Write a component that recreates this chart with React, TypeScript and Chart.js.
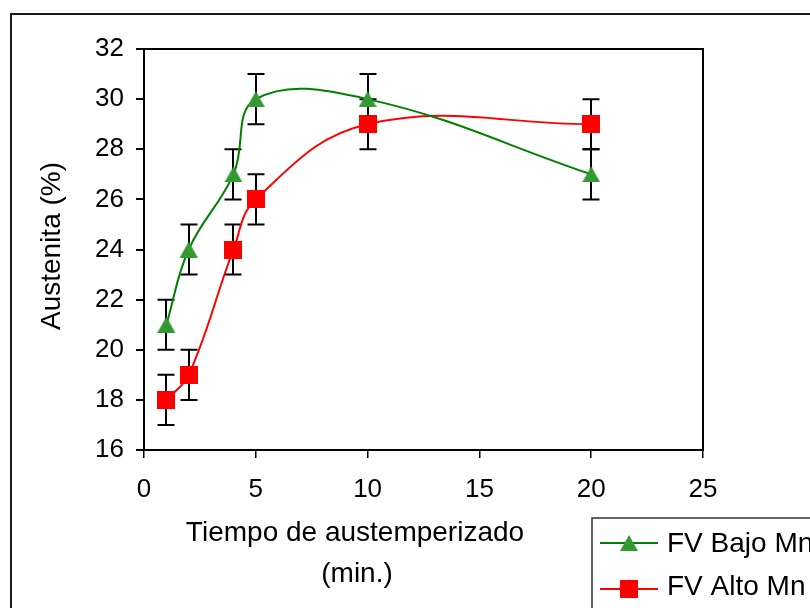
import { useEffect, useRef } from 'react';
import { Chart, registerables } from 'chart.js';

Chart.register(...registerables);

// ---- data ----
const tiempo = [1, 2, 4, 5, 10, 20];
const bajoMn = [21, 24, 27, 30, 30, 27];
const altoMn = [18, 19, 24, 26, 29, 29];
const errBajo = [1, 1, 1, 1, 1, 1];
const errAlto = [1, 1, 1, 1, 1, 1];
const seriesNames = ['FV Bajo Mn', 'FV Alto Mn'];
const xTitleLines = ['Tiempo de austemperizado', '(min.)'];
const yTitle = 'Austenita (%)';
const X_MIN = 0;
const X_MAX = 25;
const X_STEP = 5;
const Y_MIN = 16;
const Y_MAX = 32;
const Y_STEP = 2;

// ---- style ----
const FONT = 'Liberation Sans';
const GREEN_LINE = '#008000';
const GREEN_MARK = '#339933';
const RED = '#ff0000';

function makeTriangle(w: number, h: number, color: string) {
  const c = document.createElement('canvas');
  c.width = w;
  c.height = h;
  const g = c.getContext('2d')!;
  g.fillStyle = color;
  g.beginPath();
  g.moveTo(w / 2, 0);
  g.lineTo(w, h);
  g.lineTo(0, h);
  g.closePath();
  g.fill();
  return c;
}

function makeSquare(s: number, color: string) {
  const c = document.createElement('canvas');
  c.width = s;
  c.height = s;
  const g = c.getContext('2d')!;
  g.fillStyle = color;
  g.fillRect(0, 0, s, s);
  return c;
}

export default function App() {
  const ref = useRef<HTMLCanvasElement>(null);

  useEffect(() => {
    const tri = makeTriangle(18, 16, GREEN_MARK);
    const sq = makeSquare(18, RED);
    const errs = [errBajo, errAlto];
    const ys = [bajoMn, altoMn];

    const decor = {
      id: 'decor',
      beforeDraw(chart: any) {
        const ctx = chart.ctx;
        ctx.save();
        ctx.fillStyle = '#fff';
        ctx.fillRect(0, 0, chart.width, chart.height);
        ctx.strokeStyle = '#1a1a1a';
        ctx.lineWidth = 2;
        ctx.strokeRect(11, 14, chart.width + 20, chart.height + 20);
        ctx.restore();
      },
      beforeDatasetsDraw(chart: any) {
        const ctx = chart.ctx;
        const xs = chart.scales.x;
        const yS = chart.scales.y;
        ctx.save();
        ctx.strokeStyle = '#000';
        ctx.lineWidth = 2;
        for (let d = 0; d < ys.length; d++) {
          for (let i = 0; i < tiempo.length; i++) {
            const px = Math.round(xs.getPixelForValue(tiempo[i]));
            const top = yS.getPixelForValue(ys[d][i] + errs[d][i]);
            const bot = yS.getPixelForValue(ys[d][i] - errs[d][i]);
            ctx.beginPath();
            ctx.moveTo(px, top);
            ctx.lineTo(px, bot);
            ctx.moveTo(px - 8.5, top);
            ctx.lineTo(px + 8.5, top);
            ctx.moveTo(px - 8.5, bot);
            ctx.lineTo(px + 8.5, bot);
            ctx.stroke();
          }
        }
        ctx.restore();
      },
      afterDraw(chart: any) {
        const ctx = chart.ctx;
        const a = chart.chartArea;
        ctx.save();
        // plot box
        ctx.strokeStyle = '#000';
        ctx.lineWidth = 2;
        ctx.strokeRect(a.left, a.top, a.right - a.left, a.bottom - a.top);
        // axis titles
        ctx.fillStyle = '#000';
        ctx.font = `28px "${FONT}"`;
        ctx.textAlign = 'center';
        ctx.textBaseline = 'alphabetic';
        ctx.fillText(xTitleLines[0], 355, 541);
        ctx.fillText(xTitleLines[1], 357, 582);
        ctx.save();
        ctx.translate(60, 246);
        ctx.rotate(-Math.PI / 2);
        ctx.fillText(yTitle, 0, 0);
        ctx.restore();
        // legend
        ctx.strokeStyle = '#333';
        ctx.lineWidth = 1.5;
        ctx.strokeRect(592, 518, 400, 200);
        const items = [
          { y: 543, base: 552, color: GREEN_LINE, img: tri },
          { y: 589, base: 595, color: RED, img: sq },
        ];
        items.forEach((it, i) => {
          ctx.strokeStyle = it.color;
          ctx.lineWidth = 2;
          ctx.beginPath();
          ctx.moveTo(600, it.y);
          ctx.lineTo(658, it.y);
          ctx.stroke();
          ctx.drawImage(it.img, 629 - it.img.width / 2, it.y - it.img.height / 2);
          ctx.fillStyle = '#000';
          ctx.textAlign = 'left';
          ctx.fillText(seriesNames[i], 667, it.base);
        });
        ctx.restore();
      },
    };

    const tickFont = { family: FONT, size: 26 };
    const chart = new Chart(ref.current!, {
      type: 'line',
      data: {
        datasets: [
          {
            label: seriesNames[0],
            data: tiempo.map((x, i) => ({ x, y: bajoMn[i] })),
            borderColor: GREEN_LINE,
            backgroundColor: GREEN_MARK,
            borderWidth: 2,
            pointStyle: tri as any,
            pointRadius: 9,
            tension: 0.4,
            fill: false,
          },
          {
            label: seriesNames[1],
            data: tiempo.map((x, i) => ({ x, y: altoMn[i] })),
            borderColor: RED,
            backgroundColor: RED,
            borderWidth: 2,
            pointStyle: sq as any,
            pointRadius: 9,
            tension: 0.4,
            fill: false,
          },
        ],
      },
      options: {
        responsive: false,
        animation: false,
        devicePixelRatio: 1,
        layout: { padding: { left: 0, top: 49, right: 107, bottom: 88 } },
        plugins: { legend: { display: false }, tooltip: { enabled: false } },
        scales: {
          x: {
            type: 'linear',
            min: X_MIN,
            max: X_MAX,
            ticks: { stepSize: X_STEP, color: '#000', font: tickFont, padding: 16 },
            grid: { drawOnChartArea: false, drawTicks: true, tickLength: 8, color: '#000', lineWidth: 1.5 },
            border: { display: true, color: '#000', width: 2 },
            afterFit: (s: any) => {
              s.height = 70;
            },
          },
          y: {
            type: 'linear',
            min: Y_MIN,
            max: Y_MAX,
            ticks: { stepSize: Y_STEP, color: '#000', font: tickFont, padding: 12 },
            grid: { drawOnChartArea: false, drawTicks: true, tickLength: 8, color: '#000', lineWidth: 2 },
            border: { display: true, color: '#000', width: 2 },
            afterFit: (s: any) => {
              s.width = 144;
            },
          },
        },
      },
      plugins: [decor],
    } as any);
    return () => chart.destroy();
  }, []);

  return (
    <div style={{ position: 'fixed', left: 0, top: 0, width: 810, height: 608, background: '#fff', overflow: 'hidden' }}>
      <canvas ref={ref} width={810} height={608} style={{ display: 'block', width: 810, height: 608 }} />
    </div>
  );
}
